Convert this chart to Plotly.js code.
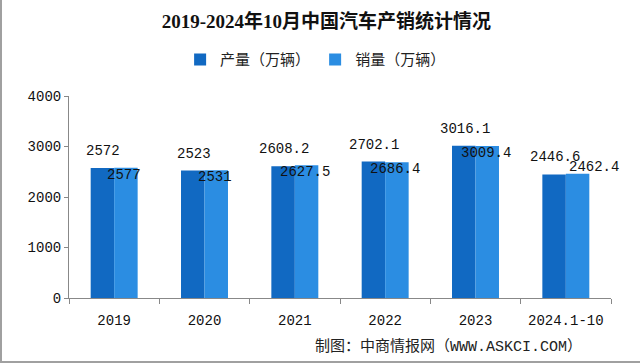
<!DOCTYPE html>
<html>
<head>
<meta charset="utf-8">
<script src="https://cdn.plot.ly/plotly-3.0.1.min.js"></script>
<style>
  html, body { margin: 0; padding: 0; background: #fff; }
  #wrap { position: relative; width: 640px; height: 363px; }
  #chart { width: 640px; height: 363px; }
  #frame { position: absolute; left: 0; top: 0; width: 640px; height: 363px; box-sizing: border-box;
           border-left: 2px solid #a0a0a0; border-bottom: 2px solid #a0a0a0; pointer-events: none; }
</style>
</head>
<body>
<div id="wrap"><div id="chart"></div><div id="frame"></div></div>
<script>
const categories = ["2019", "2020", "2021", "2022", "2023", "2024.1-10"];
const production = [2572, 2523, 2608.2, 2702.1, 3016.1, 2446.6];
const sales = [2577, 2531, 2627.5, 2686.4, 3009.4, 2462.4];
const productionLabels = ["2572", "2523", "2608.2", "2702.1", "3016.1", "2446.6"];
const salesLabels = ["2577", "2531", "2627.5", "2686.4", "3009.4", "2462.4"];
const seriesNames = ["产量（万辆）", "销量（万辆）"];
const titleText = "2019-2024年10月中国汽车产销统计情况";
const sourceText = "制图：中商情报网（WWW.ASKCI.COM）";

const numFont = "'Liberation Mono', 'Noto Sans CJK SC', monospace";
const serifFont = "'Liberation Serif', 'Noto Sans CJK SC', serif";
const cjkFont = "'Noto Sans CJK SC', 'Liberation Serif', serif";

const traces = [
  { type: "bar", name: seriesNames[0], x: categories, y: production,
    marker: { color: "#1169c2" }, hoverinfo: "none" },
  { type: "bar", name: seriesNames[1], x: categories, y: sales,
    marker: { color: "#2b8de2" }, hoverinfo: "none" }
];

const annotations = [];
categories.forEach((c, i) => {
  annotations.push({ x: i, y: production[i], xref: "x", yref: "y", text: productionLabels[i],
    showarrow: false, xshift: -11, yshift: 17, font: { family: numFont, size: 14, color: "#111" } });
  const last = i === categories.length - 1;
  annotations.push({ x: i, y: sales[i], xref: "x", yref: "y", text: salesLabels[i],
    showarrow: false, xshift: last ? 28 : 10, yshift: last ? 7 : -7,
    font: { family: numFont, size: 14, color: "#111" } });
});
annotations.push({ x: 0.70, xanchor: "center", y: -0.243, xref: "paper", yref: "paper", yanchor: "middle",
  text: sourceText, showarrow: false, font: { family: numFont, size: 15, color: "#222" } });

const layout = {
  width: 640, height: 363,
  margin: { l: 69, r: 29, t: 96, b: 65 },
  paper_bgcolor: "#ffffff", plot_bgcolor: "#ffffff",
  title: { text: "<b>" + titleText + "</b>", x: 0.51, xanchor: "center", y: 0.94, yanchor: "middle",
    yref: "container", font: { family: serifFont, size: 19, color: "#111" } },
  barmode: "group", bargap: 0.48, bargroupgap: 0,
  showlegend: true,
  legend: { orientation: "h", x: 0.455, xanchor: "center", y: 1.18, yanchor: "middle",
    font: { family: cjkFont, size: 15, color: "#222" }, itemwidth: 30, traceorder: "normal" },
  xaxis: { type: "category", range: [-0.5, 5.5], showline: true, linecolor: "#888", linewidth: 1,
    ticks: "outside", tickson: "boundaries", ticklen: 5, tickcolor: "#888", ticklabelstandoff: 9,
    showgrid: false, tickfont: { family: numFont, size: 14, color: "#111" }, fixedrange: true },
  yaxis: { range: [0, 4000], dtick: 1000, showline: true, linecolor: "#888", linewidth: 1,
    ticks: "outside", ticklen: 4, tickcolor: "#888", showgrid: false, zeroline: false,
    tickfont: { family: numFont, size: 14, color: "#111" }, fixedrange: true },
  annotations: annotations
};

Plotly.newPlot("chart", traces, layout, { displayModeBar: false, staticPlot: true });
</script>
</body>
</html>
